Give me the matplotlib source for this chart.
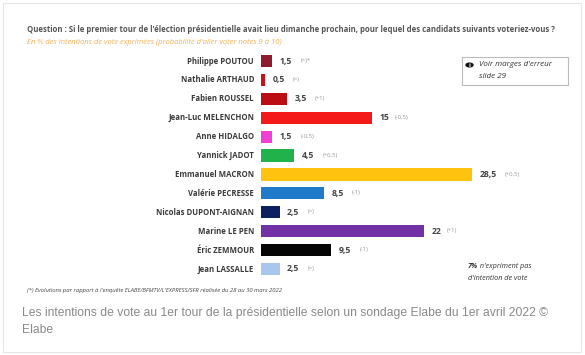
import matplotlib
matplotlib.use("Agg")
import matplotlib.pyplot as plt
from matplotlib.patches import Rectangle, Circle

candidates = ["Philippe POUTOU", "Nathalie ARTHAUD", "Fabien ROUSSEL", "Jean-Luc MELENCHON",
              "Anne HIDALGO", "Yannick JADOT", "Emmanuel MACRON", "Valérie PECRESSE",
              "Nicolas DUPONT-AIGNAN", "Marine LE PEN", "Éric ZEMMOUR", "Jean LASSALLE"]
values = [1.5, 0.5, 3.5, 15, 1.5, 4.5, 28.5, 8.5, 2.5, 22, 9.5, 2.5]
value_labels = ["1,5", "0,5", "3,5", "15", "1,5", "4,5", "28,5", "8,5", "2,5", "22", "9,5", "2,5"]
changes = ["(=)*", "(=)", "(+1)", "(-0,5)", "(-0,5)", "(+0,5)", "(+0,5)", "(-1)", "(=)", "(+1)", "(-1)", "(=)"]
colors = ["#8E1B2E", "#C3121E", "#BC0D12", "#F41A1A", "#F03FD6", "#22B24C", "#FFC20E",
          "#1F7BC9", "#0C1F5E", "#7232A6", "#050505", "#A9C7EC"]

W, H = 585, 355
fig = plt.figure(figsize=(W / 100, H / 100), dpi=100)
fig.patch.set_facecolor("white")

def fx(px):
    return px / W

def fy(py):
    return 1 - py / H

# frame
fig.patches.append(Rectangle((fx(3), fy(352)), fx(581) - fx(3), fy(3) - fy(352),
                             transform=fig.transFigure, fill=False, edgecolor="#e6e6e6", lw=0.8))

# axes: x 0..30 maps 261..483 px; rows at 61..269 px
ax_left, ax_right = 261, 261 + 7.4 * 30
row0, rowN = 61, 269
step = (rowN - row0) / 11
ax_top, ax_bot = row0 - step / 2, rowN + step / 2
ax = fig.add_axes([fx(ax_left), fy(ax_bot), fx(ax_right) - fx(ax_left), fy(ax_top) - fy(ax_bot)])
ax.set_xlim(0, 30)
ax.set_ylim(len(candidates) - 0.5, -0.5)
ax.axis("off")

ypos = list(range(len(candidates)))
ax.barh(ypos, values, height=0.64, color=colors, edgecolor="none")

fam = ["Open Sans", "DejaVu Sans"]
for i, (name, v, vl, ch) in enumerate(zip(candidates, values, value_labels, changes)):
    ax.annotate(name, xy=(0, i), xytext=(-5, 0), textcoords="offset points",
                ha="right", va="center", fontsize=5.6, fontweight="bold", color="#3a3a3a", family=fam)
    ax.annotate(vl, xy=(v, i), xytext=(5.5, 0), textcoords="offset points",
                ha="left", va="center", fontsize=6.2, fontweight="bold", color="#444444", family=fam)
    ax.annotate(ch, xy=(v, i), xytext=(5.5 + 3.6 * len(vl) + 4, 0.3), textcoords="offset points",
                ha="left", va="center", fontsize=4.3, color="#999999", family=fam)

# title & subtitle
fig.text(fx(27), fy(30), "Question : Si le premier tour de l'élection présidentielle avait lieu dimanche prochain, "
         "pour lequel des candidats suivants voteriez-vous ?", ha="left", va="center",
         fontsize=5.6, fontweight="bold", color="#555555", family=fam)
fig.text(fx(27), fy(42), "En % des intentions de vote exprimées (probabilité d'aller voter notes 9 à 10)",
         ha="left", va="center", fontsize=5.5, style="italic", color="#F4B25A", family=fam)

# info box
fig.patches.append(Rectangle((fx(462), fy(85)), fx(568) - fx(462), fy(57) - fy(85),
                             transform=fig.transFigure, fill=False, edgecolor="#bbbbbb", lw=0.8))
fig.patches.append(Circle((fx(469.5), fy(65)), radius=4.2 / W, transform=fig.transFigure,
                          facecolor="#111111", edgecolor="none"))
fig.text(fx(469.5), fy(65.3), "i", ha="center", va="center", fontsize=4.5, fontweight="bold",
         color="white", family=fam)
fig.text(fx(479), fy(65), "Voir marges d'erreur", ha="left", va="center", fontsize=5.8,
         style="italic", color="#333333", family=fam)
fig.text(fx(479), fy(77), "slide 29", ha="left", va="center", fontsize=5.8,
         style="italic", color="#333333", family=fam)

# 7% note
fig.text(fx(468), fy(267), "7%", ha="left", va="center", fontsize=5.2, style="italic",
         fontweight="bold", color="#333333", family=fam)
fig.text(fx(478), fy(267), " n'expriment pas", ha="left", va="center", fontsize=5.2, style="italic",
         color="#333333", family=fam)
fig.text(fx(468), fy(278), "d'intention de vote", ha="left", va="center", fontsize=5.2, style="italic",
         color="#333333", family=fam)

# footnote
fig.text(fx(27), fy(290), "(*) Evolutions par rapport à l'enquête ELABE/BFMTV/L'EXPRESS/SFR réalisée du 28 au 30 mars 2022",
         ha="left", va="center", fontsize=4.2, style="italic", color="#444444", family=fam)

# caption
cap_fam = ["Liberation Sans", "DejaVu Sans"]
fig.text(fx(22), fy(313), "Les intentions de vote au 1er tour de la présidentielle selon un sondage Elabe du 1er avril 2022 ©",
         ha="left", va="center", fontsize=8.7, color="#8a8a8a", family=cap_fam)
fig.text(fx(22), fy(330), "Elabe", ha="left", va="center", fontsize=8.7, color="#8a8a8a", family=cap_fam)

fig.savefig("out.png", dpi=100)
